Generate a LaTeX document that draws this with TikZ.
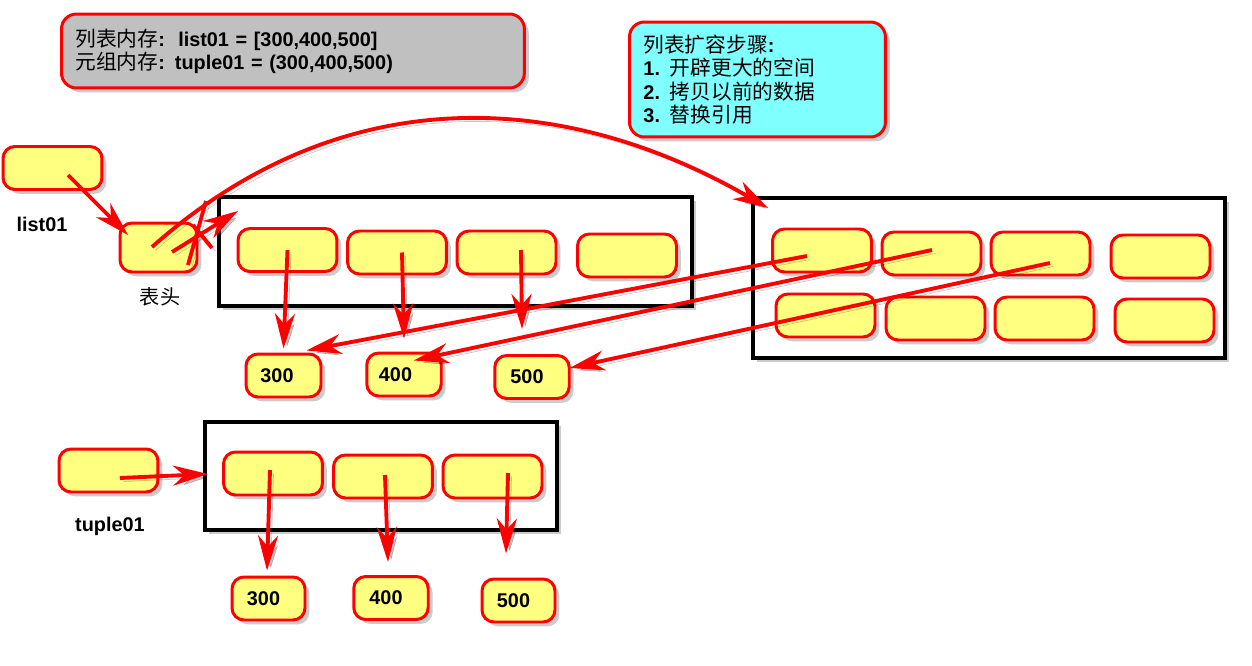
\documentclass[tikz,border=0pt]{standalone}
\usepackage{fontspec}
\setmainfont{Liberation Sans}
\newfontfamily\cjk{Noto Sans CJK SC}
\usetikzlibrary{arrows.meta,shadows,calc}
\definecolor{boxyellow}{RGB}{255,255,128}
\definecolor{boxred}{RGB}{255,0,0}
\definecolor{notegray}{RGB}{192,192,192}
\definecolor{notecyan}{RGB}{128,255,255}
\tikzset{
  shad/.style={drop shadow={opacity=0.4, shadow xshift=2.5pt, shadow yshift=-2.5pt}},
  cell/.style={draw=boxred, line width=1.7pt, fill=boxyellow, rounded corners=0.24cm,
    minimum width=1.98cm, minimum height=0.86cm, inner sep=0pt, shad},
  numbox/.style={cell, minimum width=1.49cm, font=\bfseries\fontsize{11.3}{13}\selectfont},
  frame/.style={draw=black, fill=white, line width=2.3pt, inner sep=0pt, shad},
  note/.style={draw=boxred, line width=1.7pt, rounded corners=0.3cm, shad,
    align=left, inner xsep=0.28cm, inner ysep=0pt, anchor=west},
  lineshadow/.style={preaction={draw=black, opacity=0.22, transform canvas={xshift=2pt,yshift=-2pt}}},
  conn/.style={draw=boxred, line width=2.2pt, lineshadow,
    -{Stealth[length=7mm,width=4mm,inset=2.2mm]}},
  cross/.style={draw=boxred, line width=2.2pt, lineshadow},
  lbl/.style={font=\bfseries\fontsize{11.3}{13}\selectfont},
  cjklbl/.style={font=\cjk\fontsize{11.5}{13}\selectfont},
}
\begin{document}
\begin{tikzpicture}[x=0.02cm,y=-0.02cm]
\useasboundingbox (0,0) rectangle (1252,666);

% notes
\node[note, fill=notegray, minimum width=9.26cm, minimum height=1.48cm,
  text width=8.7cm, font=\fontsize{11.3}{13.2}\selectfont] (memnote) at (60,51)
  {{\cjk\fontsize{11.8}{13.2}\selectfont 列表内存}\textbf{:\ \ list01 = [300,400,500]}\\
   {\cjk\fontsize{11.8}{13.2}\selectfont 元组内存}\textbf{: tuple01 = (300,400,500)}};
\node[note, fill=notecyan, minimum width=5.12cm, minimum height=2.3cm,
  text width=4.56cm, font=\fontsize{11.3}{13.3}\selectfont] (stepnote) at (628,79.5)
  {{\cjk\fontsize{11.8}{13.3}\selectfont 列表扩容步骤}\textbf{:}\\
   \textbf{1.} {\cjk\fontsize{11.8}{13.3}\selectfont 开辟更大的空间}\\
   \textbf{2.} {\cjk\fontsize{11.8}{13.3}\selectfont 拷贝以前的数据}\\
   \textbf{3.} {\cjk\fontsize{11.8}{13.3}\selectfont 替换引用}};

% frames
\node[frame, minimum width=9.46cm, minimum height=2.18cm] (r1) at (455.5,251.5) {};
\node[frame, minimum width=9.44cm, minimum height=3.2cm] (r2) at (989,278) {};
\node[frame, minimum width=7.04cm, minimum height=2.16cm] (r3) at (381,476) {};

% variables
\node[cell] (lv) at (52.5,168) {};
\node[lbl] (lvl) at (42,224) {list01};
\node[cell, minimum width=1.54cm, minimum height=0.98cm] (hd) at (158.5,247.5) {};
\node[cjklbl] (hdl) at (160,297) {表头};
\node[cell] (tv) at (108.5,470.5) {};
\node[lbl] (tvl) at (110,526) {tuple01};

% list cells
\node[cell] (b1) at (287.5,250) {};
\node[cell] (b2) at (397,252.5) {};
\node[cell] (b3) at (506.5,252.5) {};
\node[cell] (b4) at (627,255.5) {};

% enlarged list cells
\node[cell] (c1) at (822,250.5) {};
\node[cell] (c2) at (931.5,253.5) {};
\node[cell] (c3) at (1040.5,253.5) {};
\node[cell] (c4) at (1160.5,256.5) {};
\node[cell] (d1) at (825.5,315.5) {};
\node[cell] (d2) at (935.5,318.5) {};
\node[cell] (d3) at (1044.5,318.5) {};
\node[cell] (d4) at (1164.5,320.5) {};

% tuple cells
\node[cell] (t1) at (273,473.5) {};
\node[cell] (t2) at (383,476.5) {};
\node[cell] (t3) at (492.5,476.5) {};

% numbers
\node[numbox, minimum width=1.5cm] (n1) at (283.5,375.5) {\hspace*{-0.26cm}300};
\node[numbox] (n2) at (404,374.5) {\hspace*{-0.34cm}400};
\node[numbox] (n3) at (532,377) {\hspace*{-0.2cm}500};
\node[numbox, minimum width=1.46cm] (m1) at (268.5,598.5) {\hspace*{-0.2cm}300};
\node[numbox] (m2) at (391,598) {\hspace*{-0.2cm}400};
\node[numbox, minimum width=1.46cm] (m3) at (518.5,600.5) {\hspace*{-0.2cm}500};

% connectors
\draw[conn] ($(lv.center)+(15.5,7)$) -- ($(hd.center)+(-30.5,-12.5)$);
\draw[conn] ($(hd.center)+(-6.5,-0.5)$) .. controls (340,80) and (560,88) .. ($(r2.north west)+(17,12)$);
\draw[conn] ($(hd.center)+(13.5,4.5)$) -- ($(r1.north west)+(21,16)$);
\draw[cross] (206,201) -- (188,265);
\draw[cross] (193,225) -- (212,248);

\draw[conn] (b1.center) -- ($(n1.north)+(0,-4)$);
\draw[conn] ($(b2.center)+(5,0)$) -- ($(n2.north)+(0,-13)$);
\draw[conn] ($(b3.center)+(14.5,-2.5)$) -- ($(n3.north)+(-10,-25)$);

\draw[conn] ($(c1.center)+(-15,5.5)$) -- ($(n1.north east)+(-16,-2)$);
\draw[conn] ($(c2.center)+(0.5,-3.5)$) -- ($(n2.north east)+(-29,9)$);
\draw[conn] ($(c3.center)+(9.5,9.5)$) -- ($(n3.east)+(-1,-9)$);

\draw[conn] ($(tv.center)+(11.5,7.5)$) -- ($(r3.west)+(5,-2)$);
\draw[conn] ($(t1.center)+(-3,-3.5)$) -- ($(m1.north)+(-1.5,-5)$);
\draw[conn] ($(t2.center)+(2,-1.5)$) -- ($(m2.north)+(-3,-13)$);
\draw[conn] ($(t3.center)+(15.5,-3.5)$) -- ($(m3.north)+(-12.5,-24)$);
\end{tikzpicture}
\end{document}
